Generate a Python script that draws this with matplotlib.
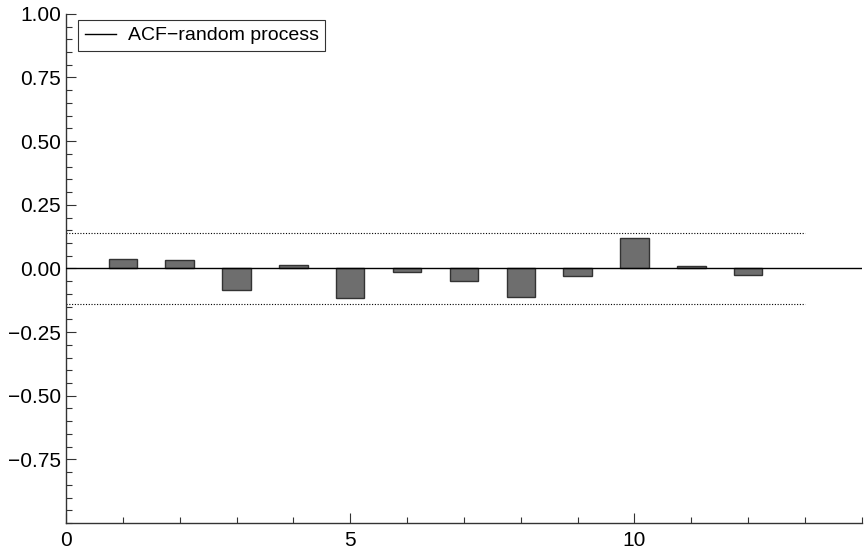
import matplotlib.pyplot as plt
from matplotlib.ticker import MultipleLocator

# autocorrelation values
lags = [1, 2, 3, 4, 5, 6, 7, 8, 9, 10, 11, 12]
acf = [0.036, 0.034, -0.084, 0.013, -0.118, -0.013, -0.050, -0.114, -0.030, 0.118, 0.008, -0.026]
conf = 0.141
conf_end = 13
x_max = 14

plt.rcParams['font.family'] = ['Liberation Sans', 'DejaVu Sans']

fig = plt.figure(figsize=(8.67, 5.54), dpi=100)
ax = fig.add_axes([0.0761, 0.056, 0.918, 0.919])

ax.bar(lags, acf, width=0.5, color='#6e6e6e', edgecolor='#333333', linewidth=1.0, zorder=2)
ax.plot([0, x_max], [0, 0], color='black', linewidth=1.0, label='ACF\u2212random process', zorder=3)
ax.plot([0, conf_end], [conf, conf], color='black', linestyle=(0, (1, 1.5)), linewidth=0.8)
ax.plot([0, conf_end], [-conf, -conf], color='black', linestyle=(0, (1, 1.5)), linewidth=0.8)

ax.set_xlim(0, x_max)
ax.set_ylim(-1, 1)
ax.xaxis.set_major_locator(MultipleLocator(5))
ax.xaxis.set_minor_locator(MultipleLocator(1))
ax.yaxis.set_minor_locator(MultipleLocator(0.05))
ax.set_yticks([-0.75, -0.5, -0.25, 0, 0.25, 0.5, 0.75, 1.0])
ax.set_yticklabels(['\u22120.75', '\u22120.50', '\u22120.25', '0.00', '0.25', '0.50', '0.75', '1.00'])

for s in ['top', 'right']:
    ax.spines[s].set_visible(False)
for s in ['left', 'bottom']:
    ax.spines[s].set_linewidth(1.0)
    ax.spines[s].set_color('#333333')

ax.tick_params(which='major', direction='in', length=7, width=0.8, labelsize=15, colors='#333333', labelcolor='black')
ax.tick_params(which='minor', direction='in', length=4, width=0.8, colors='#333333')
ax.tick_params(axis='x', pad=6)

leg = ax.legend(loc='upper left', bbox_to_anchor=(0.015, 0.988), borderaxespad=0, fontsize=14,
                frameon=True, fancybox=False, edgecolor='black', handlelength=1.6,
                handletextpad=0.6, borderpad=0.35)
leg.get_frame().set_linewidth(0.8)

fig.savefig('out.png', dpi=100)
